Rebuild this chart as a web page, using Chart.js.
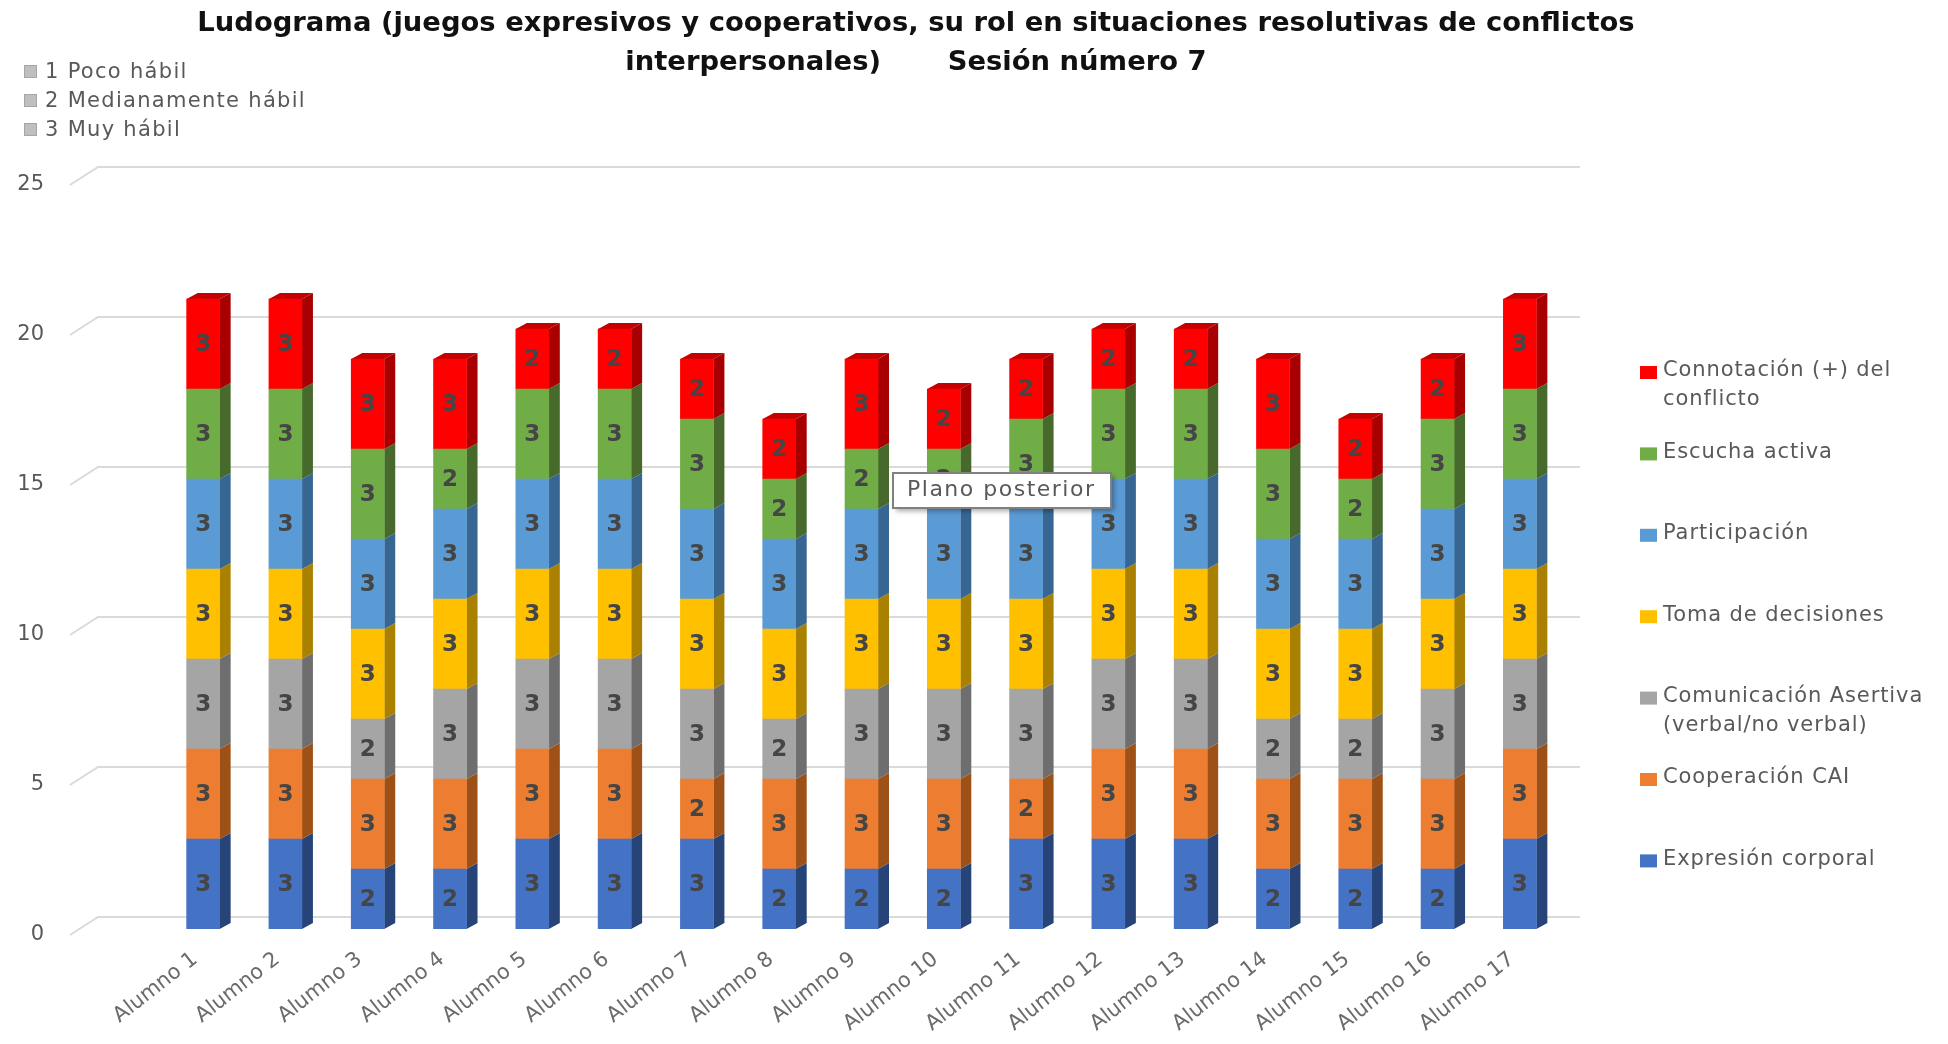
<!DOCTYPE html>
<html>
<head>
<meta charset="utf-8">
<script src="https://cdn.jsdelivr.net/npm/chart.js@4/dist/chart.umd.min.js"></script>
<style>
  html, body { margin: 0; padding: 0; background: #fff; }
  canvas { display: block; }
</style>
</head>
<body>
<canvas id="chart" width="1948" height="1044"></canvas>
<script>
const alumnos = ['Alumno 1', 'Alumno 2', 'Alumno 3', 'Alumno 4', 'Alumno 5', 'Alumno 6', 'Alumno 7', 'Alumno 8', 'Alumno 9',
  'Alumno 10', 'Alumno 11', 'Alumno 12', 'Alumno 13', 'Alumno 14', 'Alumno 15', 'Alumno 16', 'Alumno 17'];

const expresion = [3, 3, 2, 2, 3, 3, 3, 2, 2, 2, 3, 3, 3, 2, 2, 2, 3];
const cooperacion = [3, 3, 3, 3, 3, 3, 2, 3, 3, 3, 2, 3, 3, 3, 3, 3, 3];
const comunicacion = [3, 3, 2, 3, 3, 3, 3, 2, 3, 3, 3, 3, 3, 2, 2, 3, 3];
const tomaDecisiones = [3, 3, 3, 3, 3, 3, 3, 3, 3, 3, 3, 3, 3, 3, 3, 3, 3];
const participacion = [3, 3, 3, 3, 3, 3, 3, 3, 3, 3, 3, 3, 3, 3, 3, 3, 3];
const escucha = [3, 3, 3, 2, 3, 3, 3, 2, 2, 2, 3, 3, 3, 3, 2, 3, 3];
const connotacion = [3, 3, 3, 3, 2, 2, 2, 2, 3, 2, 2, 2, 2, 3, 2, 2, 3];

const nivelLabels = ['1 Poco hábil', '2 Medianamente hábil', '3 Muy hábil'];
const titleLines = ['Ludograma (juegos expresivos y cooperativos, su rol en situaciones resolutivas de conflictos',
  'interpersonales)       Sesión número 7'];

const FONT = '"DejaVu Sans"';
const DEPTH_X = 11, DEPTH_Y = 6; // profundidad de las barras

function makeSet(label, data, color, side, legendLines) {
  return { label, data, backgroundColor: color, side, legendLines, stack: 'a', barThickness: 33, borderWidth: 0 };
}

// falso 3D: caras laterales y superior, mas la rejilla en perspectiva
const depthPlugin = {
  id: 'depth',
  beforeDatasetsDraw(chart) {
    const { ctx, scales: { y } } = chart;
    ctx.save();
    ctx.strokeStyle = '#DADADA';
    ctx.lineWidth = 2;
    y.ticks.forEach(t => {
      const py = y.getPixelForValue(t.value);
      ctx.beginPath();
      ctx.moveTo(70, py + 6);
      ctx.lineTo(98, py - 12);
      ctx.lineTo(1580, py - 12);
      ctx.stroke();
    });
    const last = chart.data.datasets.length - 1;
    chart.data.datasets.forEach((ds, i) => {
      chart.getDatasetMeta(i).data.forEach(bar => {
        const r = bar.x + bar.width / 2, l = bar.x - bar.width / 2;
        ctx.fillStyle = ds.side;
        ctx.beginPath();
        ctx.moveTo(r, bar.y);
        ctx.lineTo(r + DEPTH_X, bar.y - DEPTH_Y);
        ctx.lineTo(r + DEPTH_X, bar.base - DEPTH_Y);
        ctx.lineTo(r, bar.base);
        ctx.closePath();
        ctx.fill();
        if (i === last) {
          ctx.fillStyle = '#C40000';
          ctx.beginPath();
          ctx.moveTo(l, bar.y);
          ctx.lineTo(l + DEPTH_X, bar.y - DEPTH_Y);
          ctx.lineTo(r + DEPTH_X, bar.y - DEPTH_Y);
          ctx.lineTo(r, bar.y);
          ctx.closePath();
          ctx.fill();
        }
      });
    });
    ctx.restore();
  }
};

const valuePlugin = {
  id: 'values',
  afterDatasetsDraw(chart) {
    const { ctx } = chart;
    ctx.save();
    ctx.font = `bold 23px ${FONT}`;
    ctx.fillStyle = '#454545';
    ctx.textAlign = 'center';
    ctx.textBaseline = 'middle';
    chart.data.datasets.forEach((ds, i) => {
      chart.getDatasetMeta(i).data.forEach((bar, j) => {
        ctx.fillText(ds.data[j], bar.x, (bar.y + bar.base) / 2 + 1);
      });
    });
    ctx.restore();
  }
};

const legendPlugin = {
  id: 'sideLegends',
  afterLayout(chart) {
    // titulo centrado sobre el grafico completo, no sobre el area de barras
    chart.titleBlock.left = 0;
    chart.titleBlock.right = 1832;
  },
  afterDraw(chart) {
    const { ctx } = chart;
    ctx.save();
    ctx.textBaseline = 'middle';
    ctx.textAlign = 'left';

    // leyenda derecha
    ctx.font = `21px ${FONT}`;
    ctx.letterSpacing = '0.9px';
    const sets = chart.data.datasets.slice().reverse();
    sets.forEach((ds, i) => {
      const y = 371 + i * 81.4;
      ctx.fillStyle = ds.backgroundColor;
      ctx.fillRect(1640, y - 5, 17, 13);
      ctx.fillStyle = '#595959';
      ds.legendLines.forEach((line, k) => ctx.fillText(line, 1663, y + k * 28.5));
    });

    // niveles arriba a la izquierda
    ctx.letterSpacing = '1.3px';
    nivelLabels.forEach((txt, i) => {
      const y = 73 + i * 29;
      ctx.fillStyle = '#BFBFBF';
      ctx.strokeStyle = '#A6A6A6';
      ctx.lineWidth = 1;
      ctx.fillRect(24, y - 8, 13, 13);
      ctx.strokeRect(24.5, y - 7.5, 12, 12);
      ctx.fillStyle = '#595959';
      ctx.fillText(txt, 45, y);
    });

    // globo "Plano posterior"
    ctx.letterSpacing = '1.5px';
    ctx.shadowColor = 'rgba(0,0,0,0.35)';
    ctx.shadowBlur = 5;
    ctx.shadowOffsetX = 3;
    ctx.shadowOffsetY = 3;
    ctx.fillStyle = '#fff';
    ctx.fillRect(893, 473, 218, 35);
    ctx.shadowColor = 'transparent';
    ctx.strokeStyle = '#808080';
    ctx.lineWidth = 2;
    ctx.strokeRect(893, 473, 218, 35);
    ctx.fillStyle = '#595959';
    ctx.font = `22px ${FONT}`;
    ctx.fillText('Plano posterior', 907, 490);
    ctx.restore();
  }
};

new Chart(document.getElementById('chart').getContext('2d'), {
  type: 'bar',
  data: {
    labels: alumnos,
    datasets: [
      makeSet('Expresión corporal', expresion, '#4472C4', '#264478', ['Expresión corporal']),
      makeSet('Cooperación CAI', cooperacion, '#ED7D31', '#9E5117', ['Cooperación CAI']),
      makeSet('Comunicación Asertiva (verbal/no verbal)', comunicacion, '#A5A5A5', '#6E6E6E', ['Comunicación Asertiva', '(verbal/no verbal)']),
      makeSet('Toma de decisiones', tomaDecisiones, '#FFC000', '#A98000', ['Toma de decisiones']),
      makeSet('Participación', participacion, '#5B9BD5', '#366691', ['Participación']),
      makeSet('Escucha activa', escucha, '#70AD47', '#47692B', ['Escucha activa']),
      makeSet('Connotación (+) del conflicto', connotacion, '#FF0000', '#A80000', ['Connotación (+) del', 'conflicto'])
    ]
  },
  options: {
    responsive: false,
    animation: false,
    layout: { padding: { left: 0, right: 387, top: 0, bottom: 0 } },
    plugins: {
      legend: { display: false },
      tooltip: { enabled: false },
      title: {
        display: true,
        text: titleLines,
        color: '#111111',
        font: { family: FONT, size: 27.4, weight: 'bold', lineHeight: 39 / 27.4 },
        padding: { top: 4, bottom: 97 }
      }
    },
    scales: {
      x: {
        stacked: true,
        grid: { display: false },
        border: { display: false },
        afterFit(scale) { scale.height = 115; },
        ticks: {
          autoSkip: false,
          minRotation: 38,
          maxRotation: 38,
          padding: 10,
          labelOffset: -8,
          color: '#6B6B6B',
          font: { family: FONT, size: 21 }
        }
      },
      y: {
        stacked: true,
        min: 0,
        max: 25,
        grid: { display: false },
        border: { display: false },
        afterFit(scale) {
          scale.width = 162;
          // el padding de las etiquetas no debe encoger el area de barras
          scale.paddingTop = 0;
          scale.paddingBottom = 0;
        },
        ticks: {
          stepSize: 5,
          padding: 110,
          labelOffset: 6,
          color: '#595959',
          font: { family: FONT, size: 21 }
        }
      }
    }
  },
  plugins: [depthPlugin, valuePlugin, legendPlugin]
});
</script>
</body>
</html>
